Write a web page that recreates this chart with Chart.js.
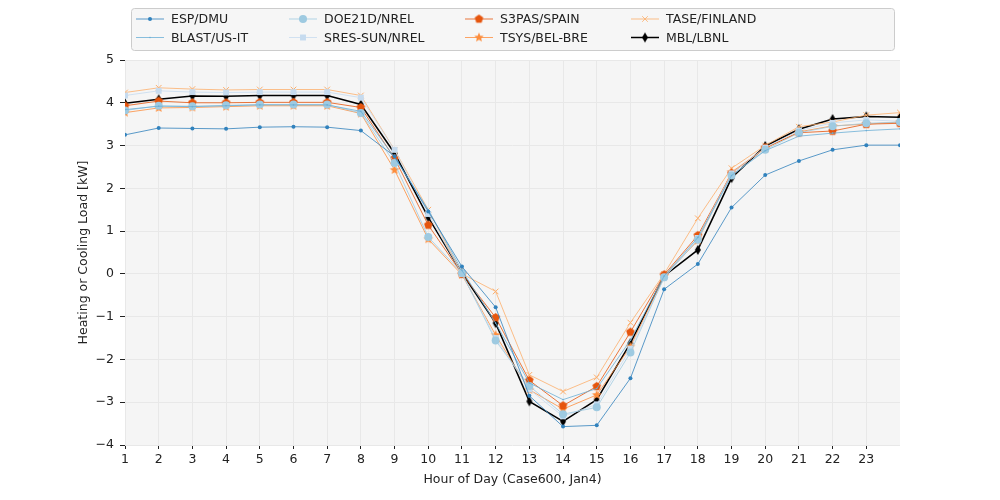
<!DOCTYPE html>
<html>
<head>
<meta charset="utf-8">
<script src="https://cdn.jsdelivr.net/npm/chart.js@4"></script>
<style>
  html, body { margin: 0; padding: 0; background: #fff; }
  #wrap { width: 1000px; height: 500px; position: relative; }
</style>
</head>
<body>
<div id="wrap"><canvas id="load"></canvas></div>
<script>
const hours = [1, 2, 3, 4, 5, 6, 7, 8, 9, 10, 11, 12, 13, 14, 15, 16, 17, 18, 19, 20, 21, 22, 23, 24];

const esp   = [3.25, 3.41, 3.40, 3.39, 3.43, 3.44, 3.43, 3.35, 2.75, 1.46, 0.17, -0.78, -2.85, -3.57, -3.54, -2.44, -0.36, 0.23, 1.55, 2.31, 2.64, 2.90, 3.01, 3.01];
const blast = [3.84, 3.92, 3.91, 3.93, 3.95, 3.95, 3.95, 3.80, 2.72, 1.50, 0.08, -1.15, -2.55, -2.94, -2.68, -1.55, -0.05, 0.85, 2.30, 2.88, 3.22, 3.29, 3.35, 3.39];
const doe   = [3.82, 3.93, 3.92, 3.94, 3.96, 3.96, 3.96, 3.76, 2.59, 0.86, 0.02, -1.56, -2.62, -3.28, -3.12, -1.84, -0.08, 0.80, 2.30, 2.90, 3.30, 3.45, 3.52, 3.55];
const sres  = [4.17, 4.28, 4.25, 4.24, 4.25, 4.25, 4.25, 4.12, 2.90, 1.40, 0.00, -1.50, -2.70, -3.33, -3.05, -1.75, -0.10, 0.84, 2.35, 2.95, 3.35, 3.53, 3.60, 3.57];
const s3pas = [3.93, 4.04, 4.00, 4.00, 4.01, 4.01, 4.01, 3.89, 2.70, 1.14, 0.00, -1.02, -2.49, -3.08, -2.63, -1.36, -0.02, 0.90, 2.35, 2.95, 3.30, 3.34, 3.50, 3.52];
const tsys  = [3.77, 3.88, 3.89, 3.91, 3.93, 3.93, 3.93, 3.75, 2.43, 0.81, -0.02, -1.43, -2.71, -3.16, -2.83, -1.70, -0.05, 0.78, 2.38, 2.93, 3.32, 3.46, 3.50, 3.55];
const tase  = [4.24, 4.35, 4.32, 4.30, 4.31, 4.31, 4.31, 4.17, 2.90, 1.50, 0.00, -0.41, -2.36, -2.75, -2.42, -1.14, 0.00, 1.30, 2.47, 3.00, 3.44, 3.55, 3.71, 3.77];
const mbl   = [3.99, 4.08, 4.16, 4.15, 4.17, 4.17, 4.17, 3.96, 2.82, 1.32, 0.02, -1.15, -2.98, -3.45, -2.94, -1.62, -0.05, 0.56, 2.24, 2.99, 3.38, 3.62, 3.68, 3.66];

const xTicks = [1, 2, 3, 4, 5, 6, 7, 8, 9, 10, 11, 12, 13, 14, 15, 16, 17, 18, 19, 20, 21, 22, 23];
const yTicks = [-4, -3, -2, -1, 0, 1, 2, 3, 4, 5];

// small canvases for the marker shapes chart.js does not have
function marker(shape, color, r) {
    const c = document.createElement("canvas");
    const s = Math.ceil(r * 2 + 2);
    c.width = s; c.height = s;
    const g = c.getContext("2d");
    const cx = s / 2, cy = s / 2;
    g.fillStyle = color;
    g.beginPath();
    if (shape === "pentagon") {
        for (let i = 0; i < 5; i++) {
            const a = -Math.PI / 2 + i * 2 * Math.PI / 5;
            g.lineTo(cx + r * Math.cos(a), cy + r * Math.sin(a));
        }
    } else if (shape === "star") {
        for (let i = 0; i < 10; i++) {
            const a = -Math.PI / 2 + i * Math.PI / 5;
            const rr = i % 2 === 0 ? r : r * 0.45;
            g.lineTo(cx + rr * Math.cos(a), cy + rr * Math.sin(a));
        }
    } else if (shape === "thindiamond") {
        g.moveTo(cx, cy - r);
        g.lineTo(cx + r * 0.6, cy);
        g.lineTo(cx, cy + r);
        g.lineTo(cx - r * 0.6, cy);
    }
    g.closePath();
    g.fill();
    return c;
}

const series = [
    { label: "ESP/DMU",       data: esp,   color: "#3182bd", style: "circle", radius: 2, width: 0.8 },
    { label: "BLAST/US-IT",   data: blast, color: "#6baed6", style: "circle", radius: 0.8, width: 0.8 },
    { label: "DOE21D/NREL",   data: doe,   color: "#9ecae1", style: "circle", radius: 4, width: 0.8 },
    { label: "SRES-SUN/NREL", data: sres,  color: "#c6dbef", style: "rect",   radius: 4.2, width: 0.8 },
    { label: "S3PAS/SPAIN",   data: s3pas, color: "#e6550d", style: marker("pentagon", "#e6550d", 4.5), radius: 4, width: 0.8 },
    { label: "TSYS/BEL-BRE",  data: tsys,  color: "#fd8d3c", style: marker("star", "#fd8d3c", 5), radius: 4, width: 0.8 },
    { label: "TASE/FINLAND",  data: tase,  color: "#fdae6b", style: "crossRot", radius: 4, width: 0.8 },
    { label: "MBL/LBNL",      data: mbl,   color: "#000000", style: marker("thindiamond", "#000000", 5), radius: 4, width: 1.5 }
];

const datasets = series.map(s => ({
    label: s.label,
    data: hours.map((h, i) => ({ x: h, y: s.data[i] })),
    borderColor: s.color,
    backgroundColor: s.color,
    pointBorderColor: s.color,
    pointBackgroundColor: s.color,
    borderWidth: s.width,
    pointStyle: s.style,
    pointRadius: s.radius,
    pointBorderWidth: s.style === "crossRot" ? 1 : 0,
    tension: 0
}));

// matplotlib style legend, filled column by column
const legendPlugin = {
    id: "mplLegend",
    afterDraw(chart) {
        const ctx = chart.ctx;
        ctx.save();
        ctx.beginPath();
        ctx.roundRect(131.5, 8.5, 763, 42, 3);
        ctx.fillStyle = "rgba(245,245,245,0.85)";
        ctx.fill();
        ctx.strokeStyle = "#cccccc";
        ctx.lineWidth = 1;
        ctx.stroke();
        const cols = [136, 289, 465, 631, 794];
        const rows = [19, 37.5];
        ctx.font = "12.5px 'DejaVu Sans'";
        ctx.textBaseline = "middle";
        chart.data.datasets.forEach((ds, i) => {
            const x = cols[Math.floor(i / 2)];
            const y = rows[i % 2];
            ctx.strokeStyle = ds.borderColor;
            ctx.lineWidth = ds.borderWidth;
            ctx.beginPath();
            ctx.moveTo(x, y);
            ctx.lineTo(x + 28, y);
            ctx.stroke();
            ctx.fillStyle = ds.backgroundColor;
            Chart.helpers.drawPoint(ctx, {
                pointStyle: ds.pointStyle,
                radius: ds.pointRadius,
                rotation: 0,
                borderWidth: ds.pointBorderWidth
            }, x + 14, y);
            ctx.fillStyle = "#222";
            ctx.fillText(ds.label, x + 35, y + 1);
        });
        ctx.restore();
    }
};

const bgPlugin = {
    id: "plotBg",
    beforeDraw(chart) {
        const a = chart.chartArea;
        chart.ctx.save();
        chart.ctx.fillStyle = "#f5f5f5";
        chart.ctx.fillRect(a.left, a.top, a.right - a.left, a.bottom - a.top);
        chart.ctx.restore();
    }
};

Chart.defaults.font.family = "'DejaVu Sans', sans-serif";
Chart.defaults.font.size = 12.5;
Chart.defaults.color = "#222";

const load = new Chart("load", {
    type: "line",
    data: { datasets: datasets },
    options: {
        responsive: true,
        maintainAspectRatio: false,
        animation: false,
        layout: { padding: { top: 60, right: 100, left: 76, bottom: 13 } },
        plugins: {
            legend: { display: false },
            tooltip: { enabled: false }
        },
        scales: {
            x: {
                type: "linear",
                min: 1,
                max: 24,
                afterBuildTicks(axis) {
                    axis.ticks = xTicks.map(h => ({ value: h }));
                },
                ticks: {
                    autoSkip: false,
                    maxRotation: 0,
                    padding: 3
                },
                grid: { color: "#e8e8e8", tickColor: "#222", tickLength: 4, lineWidth: 1 },
                border: { display: false },
                title: { display: true, text: "Hour of Day (Case600, Jan4)", padding: { top: 2, bottom: 0 } },
                afterFit(axis) { axis.height = 42; }
            },
            y: {
                min: -4,
                max: 5,
                afterBuildTicks(axis) {
                    axis.ticks = yTicks.map(v => ({ value: v }));
                },
                ticks: {
                    padding: 6,
                    callback: v => String(v).replace("-", "\u2212")
                },
                grid: { color: "#e8e8e8", tickColor: "#222", tickLength: 5, lineWidth: 1 },
                border: { display: false },
                title: { display: true, text: "Heating or Cooling Load [kW]", padding: { top: 0, bottom: 8 } },
                afterFit(axis) { axis.width = 49; }
            }
        }
    },
    plugins: [bgPlugin, legendPlugin]
});
</script>
</body>
</html>
